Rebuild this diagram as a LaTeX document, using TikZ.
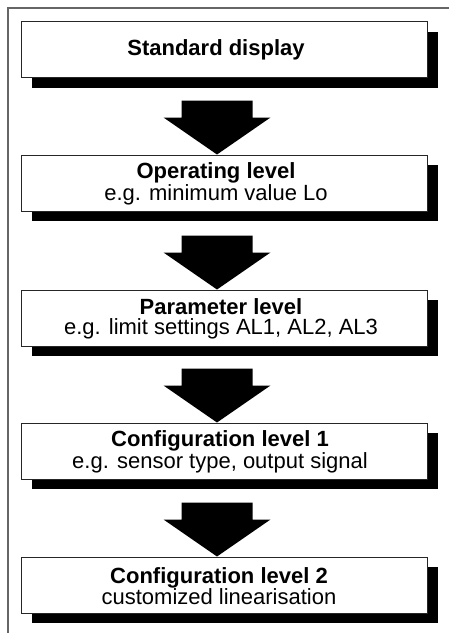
\documentclass[tikz,border=0pt]{standalone}
\usepackage{fontspec}
\setmainfont{Liberation Sans}
\usetikzlibrary{calc}
\begin{document}
\begin{tikzpicture}[x=1pt,y=-1pt,
  levelbox/.style={draw=black!85, line width=1pt, fill=white,
    minimum width=406pt, minimum height=56pt, inner sep=0pt},
  shadowbox/.style={fill=black, minimum width=406pt, minimum height=56pt, inner sep=0pt},
  leveltext/.style={align=center, font=\fontsize{22}{20}\selectfont, inner sep=0pt},
  flowarrow/.style={fill=black}]
\useasboundingbox (0,0) rectangle (448,633);
% outer frame (runs off the right and bottom edges)
\draw[black!60, line width=1.4pt] (8,640) -- (8,8) -- (460,8);

% drop shadows
\node[shadowbox] (s1) at (235,59.5) {};
\node[shadowbox] (s2) at (235,193) {};
\node[shadowbox] (s3) at (235,328) {};
\node[shadowbox] (s4) at (235,461) {};
\node[shadowbox] (s5) at (235,595) {};

% level boxes
\node[levelbox] (b1) at (224,49.5) {};
\node[levelbox] (b2) at (224,183) {};
\node[levelbox] (b3) at (224,318) {};
\node[levelbox] (b4) at (224,451) {};
\node[levelbox] (b5) at (224,585) {};

% captions
\node[leveltext] (t1) at (216,50) {\textbf{Standard display}};
\node[leveltext] (t2) at (216,184) {\textbf{Operating level}\\e.g. minimum value Lo};
\node[leveltext] (t3) at (221,319) {\textbf{Parameter level}\\e.g. limit settings AL1, AL2, AL3};
\node[leveltext] (t4) at (220,452) {\textbf{Configuration level 1}\\e.g. sensor type, output signal};
\node[leveltext] (t5) at (219,586) {\textbf{Configuration level 2}\\customized linearisation};

% block arrows between the levels
\coordinate (ax) at (217,0);
\foreach \n in {2,3,4,5}{
  \fill[flowarrow] (ax |- b\n.north) -- ++(-53.5,-37) -- ++(18,0) -- ++(0,-17)
    -- ++(71,0) -- ++(0,17) -- ++(18,0) -- cycle;
}
\end{tikzpicture}
\end{document}
